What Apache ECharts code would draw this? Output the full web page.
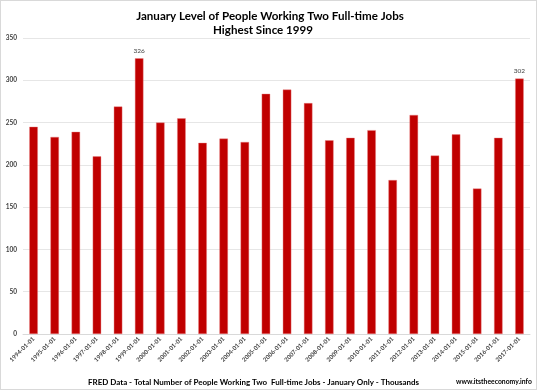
<!DOCTYPE html>
<html><head><meta charset="utf-8">
<script src="https://cdn.jsdelivr.net/npm/echarts@6/dist/echarts.min.js"></script>
<style>html,body{margin:0;padding:0;background:#fff}#c{width:537px;height:390px;box-sizing:border-box;border:1px solid #d9d9d9}</style>
</head><body><div id="c"></div>
<script>
const categories = ['1994-01-01','1995-01-01','1996-01-01','1997-01-01','1998-01-01','1999-01-01','2000-01-01','2001-01-01','2002-01-01','2003-01-01','2004-01-01','2005-01-01','2006-01-01','2007-01-01','2008-01-01','2009-01-01','2010-01-01','2011-01-01','2012-01-01','2013-01-01','2014-01-01','2015-01-01','2016-01-01','2017-01-01'];
const values = [245,233,239,210,269,326,250,255,226,231,227,284,289,273,229,232,241,182,259,211,236,172,232,302];
const labelled = ['1999-01-01','2017-01-01'];
const titleLines = ['January Level of People Working Two Full-time Jobs','Highest Since 1999'];
const footer = 'FRED Data - Total Number of People Working Two  Full-time Jobs - January Only - Thousands';
const site = 'www.itstheeconomy.info';

const font = 'Lato, "Open Sans", sans-serif';
const mctx = document.createElement('canvas').getContext('2d');
function fitSize(text, targetW, weight){
  mctx.font = weight + ' 20px ' + font;
  const w = mctx.measureText(text).width;
  return 20 * targetW / w;
}
const tSize = fitSize(titleLines[0], 268, 'bold');
const fSize = fitSize(footer, 331, 'bold');
const sSize = fitSize(site, 76, 'bold');

const chart = echarts.init(document.getElementById('c'), null, {renderer:'canvas'});
chart.setOption({
  animation:false,
  grid:{left:22, right:6, top:37, bottom:55, containLabel:false},
  xAxis:{type:'category', data:categories, axisTick:{show:false},
    axisLine:{lineStyle:{color:'#d9d9d9'}},
    axisLabel:{rotate:45, fontSize:6, fontFamily:font, fontWeight:'bold', color:'#404040', margin:4, interval:0}},
  yAxis:{type:'value', min:0, max:350, interval:50,
    axisLabel:{fontSize:6.5, fontFamily:font, fontWeight:'bold', color:'#404040', margin:6},
    splitLine:{lineStyle:{color:'#e6e6e6'}}},
  series:[{type:'bar', barWidth:'40%',
    data:values.map((v,i)=>({value:v, label:{show:labelled.includes(categories[i])}})),
    itemStyle:{color:'#c00000', borderColor:'#e88080', borderWidth:0.4},
    label:{position:'top', fontSize:6.5, fontFamily:font, color:'#404040', distance:4}}],
  graphic:[
    {type:'text', x:269, y:15, style:{text:titleLines[0], font:'bold '+tSize.toFixed(2)+'px '+font, fill:'#000', align:'center', verticalAlign:'middle'}},
    {type:'text', x:262, y:29.5, style:{text:titleLines[1], font:'bold '+tSize.toFixed(2)+'px '+font, fill:'#000', align:'center', verticalAlign:'middle'}},
    {type:'text', x:87, y:381, style:{text:footer, font:'bold '+fSize.toFixed(2)+'px '+font, fill:'#000', verticalAlign:'middle'}},
    {type:'text', x:455, y:381, style:{text:site, font:'bold '+sSize.toFixed(2)+'px '+font, fill:'#000', verticalAlign:'middle'}}
  ]
});
</script></body></html>
